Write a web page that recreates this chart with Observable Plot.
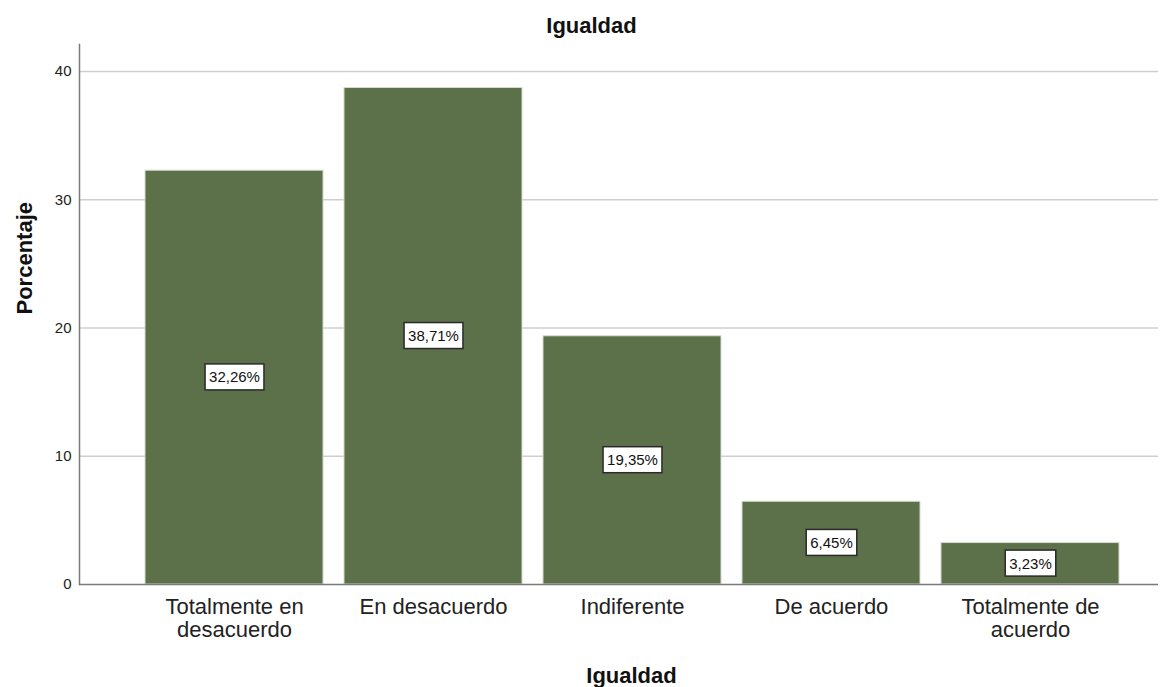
<!DOCTYPE html>
<html>
<head>
<meta charset="utf-8">
<script src="https://cdn.jsdelivr.net/npm/d3@7"></script>
<script src="https://cdn.jsdelivr.net/npm/@observablehq/plot@0.6"></script>
<style>
  html, body { margin: 0; padding: 0; background: #fff; }
  #chart svg { display: block; }
</style>
</head>
<body>
<div id="chart"></div>
<script>
const chartTitle = "Igualdad";
const xTitle = "Igualdad";
const yTitle = "Porcentaje";
const categories = ["Totalmente en\ndesacuerdo", "En desacuerdo", "Indiferente", "De acuerdo", "Totalmente de\nacuerdo"];
const percentages = [32.26, 38.71, 19.35, 6.45, 3.23];
const yTicks = [0, 10, 20, 30, 40];

const data = categories.map((c, i) => ({category: c, value: percentages[i]}));
const fmt = v => v.toFixed(2).replace(".", ",") + "%";
const font = "'Liberation Sans', Arial, sans-serif";

const plot = Plot.plot({
  width: 1170,
  height: 687,
  marginTop: 44,
  marginBottom: 103,
  marginLeft: 79,
  marginRight: 12,
  style: {fontFamily: font, fontSize: "15px", color: "#000", background: "#fff"},
  x: {type: "band", domain: categories, round: false, paddingInner: 0.1055, paddingOuter: 0.0528, insetLeft: 55.5, insetRight: 28.5, label: null, axis: null},
  y: {domain: [0, 42.1], label: null, axis: null},
  marks: [
    Plot.gridY(yTicks.slice(1), {stroke: "#cfcfcf", strokeOpacity: 1, strokeWidth: 1.5}),
    Plot.barY(data, {x: "category", y: "value", fill: "#5c7049", stroke: "#d6dbd0", strokeWidth: 1}),
    Plot.ruleY([0], {stroke: "#7a7a7a", strokeWidth: 1.5}),
    Plot.frame({anchor: "left", stroke: "#7a7a7a", strokeWidth: 1.5}),
    Plot.axisY({ticks: yTicks, tickSize: 0, tickPadding: 8, fontSize: 15, fill: "#222", label: null}),
    Plot.axisX({tickSize: 0, tickPadding: 13, fontSize: 22, lineHeight: 1.05, fill: "#222", label: null}),
    Plot.text(data, {x: "category", y: d => d.value / 2, text: d => fmt(d.value), fontSize: 15, fill: "#111", className: "pct"}),
    Plot.text([chartTitle], {frameAnchor: "top", lineAnchor: "top", dy: -27, dx: -27.5, fontSize: 22, fontWeight: "bold", fill: "#111"}),
    Plot.text([xTitle], {frameAnchor: "bottom", lineAnchor: "top", dy: 83, dx: 12.5, fontSize: 22, fontWeight: "bold", fill: "#111"}),
    Plot.text([yTitle], {frameAnchor: "left", rotate: -90, dx: -55, fontSize: 22, fontWeight: "bold", fill: "#111"})
  ]
});
document.getElementById("chart").appendChild(plot);

// white boxes behind the percentage labels
d3.select(plot).selectAll("g.pct text").each(function() {
  const b = this.getBBox();
  const parent = this.parentNode;
  const rect = document.createElementNS("http://www.w3.org/2000/svg", "rect");
  const tr = this.getAttribute("transform");
  if (tr) rect.setAttribute("transform", tr);
  rect.setAttribute("x", b.x - 4);
  rect.setAttribute("y", b.y - 4.5);
  rect.setAttribute("width", b.width + 8);
  rect.setAttribute("height", b.height + 9);
  rect.setAttribute("fill", "#fff");
  rect.setAttribute("stroke", "#2a2a2a");
  rect.setAttribute("stroke-width", 1.5);
  parent.insertBefore(rect, this);
});
</script>
</body>
</html>
